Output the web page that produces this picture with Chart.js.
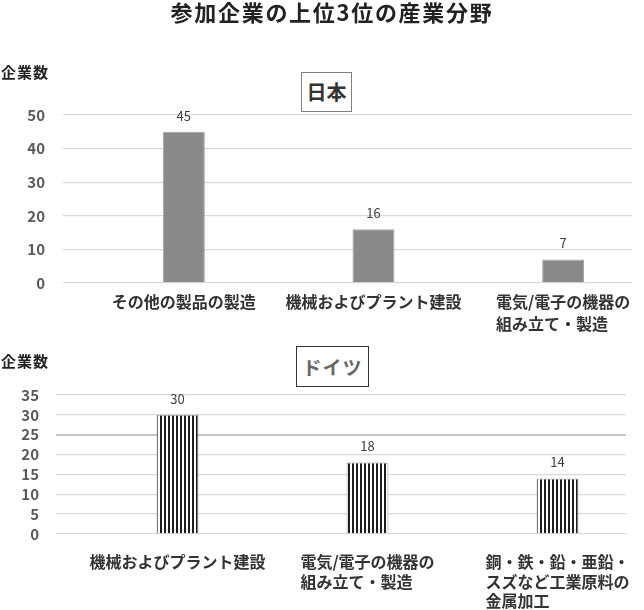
<!DOCTYPE html>
<html>
<head>
<meta charset="utf-8">
<script src="https://cdn.jsdelivr.net/npm/chart.js@4.4.1/dist/chart.umd.min.js"></script>
<style>
html,body{margin:0;padding:0;background:#fff;}
body{width:644px;height:610px;position:relative;overflow:hidden;font-family:"Noto Sans CJK JP","Noto Sans",sans-serif;}
.abs{position:absolute;}
#title{left:0;width:664px;top:-2px;text-align:center;font-size:22px;line-height:26px;font-weight:bold;letter-spacing:1.7px;color:#222;}
.yunit{left:1px;font-size:15px;line-height:18px;font-weight:bold;letter-spacing:1px;color:#222;}
.box{box-sizing:border-box;text-align:center;background:#fff;font-weight:bold;}
#boxJP{left:301px;top:72px;width:51px;height:40px;border:1px solid #808080;font-size:20px;line-height:38px;color:#333;}
#boxDE{left:296px;top:346px;width:73px;height:41px;border:1px solid #333;font-size:19px;line-height:39px;color:#666;letter-spacing:1px;}
canvas{position:absolute;left:0;}
#c1{top:0;}
#c2{top:335px;}
</style>
</head>
<body>
<canvas id="c1" width="644" height="335"></canvas>
<canvas id="c2" width="644" height="275"></canvas>
<div id="title" class="abs">参加企業の上位3位の産業分野</div>
<div class="abs yunit" style="top:63px;">企業数</div>
<div class="abs yunit" style="top:352px;">企業数</div>
<div id="boxJP" class="abs box">日本</div>
<div id="boxDE" class="abs box">ドイツ</div>
<script>
// ---- data ----
const jpCategories = [['その他の製品の製造'], ['機械およびプラント建設'], ['電気/電子の機器の', '組み立て・製造']];
const jpValues = [45, 16, 7];
const jpTicks = [0, 10, 20, 30, 40, 50];

const deCategories = [['機械およびプラント建設'], ['電気/電子の機器の', '組み立て・製造'], ['銅・鉄・鉛・亜鉛・', 'スズなど工業原料の', '金属加工']];
const deValues = [30, 18, 14];
const deTicks = [0, 5, 10, 15, 20, 25, 30, 35];

const FONT = '"Noto Sans CJK JP","Noto Sans",sans-serif';

function makeXLabelPlugin(lines, offset, lineHeight) {
  return {
    id: 'xlabels',
    afterDraw(chart) {
      const ctx = chart.ctx;
      const meta = chart.getDatasetMeta(1);
      ctx.save();
      ctx.font = 'bold 16px ' + FONT;
      ctx.fillStyle = '#333';
      ctx.textBaseline = 'middle';
      ctx.textAlign = 'left';
      lines.forEach((ls, i) => {
        const cx = meta.data[i].x;
        const w = Math.max(...ls.map(t => ctx.measureText(t).width));
        ls.forEach((t, j) => ctx.fillText(t, cx - w / 2, chart.chartArea.bottom + offset + j * lineHeight));
      });
      ctx.restore();
    }
  };
}

function makeValuePlugin(values) {
  return {
    id: 'vlabels',
    afterDatasetsDraw(chart) {
      const ctx = chart.ctx;
      const meta = chart.getDatasetMeta(1);
      ctx.save();
      ctx.font = '13px ' + FONT;
      ctx.fillStyle = '#404040';
      ctx.textAlign = 'center';
      ctx.textBaseline = 'middle';
      meta.data.forEach((el, i) => ctx.fillText(String(values[i]), el.x, el.y - 16));
      ctx.restore();
    }
  };
}

function stripePattern() {
  const c = document.createElement('canvas');
  c.width = 4; c.height = 4;
  const g = c.getContext('2d');
  g.fillStyle = '#ffffff'; g.fillRect(0, 0, 4, 4);
  g.fillStyle = '#1e1e1e'; g.fillRect(0, 0, 2, 4);
  return g.createPattern(c, 'repeat');
}

function makeChart(id, cats, vals, ticks, cfg) {
  return new Chart(document.getElementById(id), {
    type: 'bar',
    data: {
      labels: cats.map(l => l.join('')),
      datasets: [
        { data: cats.map(() => null), backgroundColor: 'rgba(0,0,0,0)' },
        { data: vals, backgroundColor: cfg.fill, borderColor: cfg.border, borderWidth: 1 }
      ]
    },
    options: {
      responsive: false,
      animation: false,
      events: [],
      datasets: { bar: { categoryPercentage: cfg.catPct, barPercentage: cfg.barPct } },
      layout: { padding: { top: cfg.padTop, right: cfg.padRight, left: 0, bottom: 0 } },
      plugins: { legend: { display: false }, tooltip: { enabled: false }, title: { display: false } },
      scales: {
        x: {
          display: true,
          grid: { display: false },
          border: { display: false },
          ticks: { display: false },
          afterFit(s) { s.height = cfg.xHeight; }
        },
        y: {
          min: ticks[0],
          max: ticks[ticks.length - 1],
          afterBuildTicks(s) { s.ticks = ticks.map(v => ({ value: v })); },
          ticks: { autoSkip: false, stepSize: ticks[1] - ticks[0], padding: cfg.tickPad, color: '#595959', font: { family: FONT, size: 15, weight: 'bold' } },
          grid: {
            drawTicks: false,
            color: (c) => (cfg.darkTick !== undefined && c.tick && c.tick.value === cfg.darkTick) ? '#c4c4c4' : '#dadada',
            lineWidth: (c) => (cfg.darkTick !== undefined && c.tick && c.tick.value === cfg.darkTick) ? 2 : 1.3
          },
          border: { display: false },
          afterFit(s) { s.width = cfg.yWidth; }
        }
      }
    },
    plugins: [makeXLabelPlugin(cats, cfg.labOffset, cfg.labLine), makeValuePlugin(vals)]
  });
}

makeChart('c1', jpCategories, jpValues, jpTicks, {
  fill: '#898989', border: '#a3a3a3',
  catPct: 0.548, barPct: 0.808,
  padTop: 115, padRight: 12, xHeight: 52, yWidth: 63, tickPad: 18,
  labOffset: 19, labLine: 22
});

makeChart('c2', deCategories, deValues, deTicks, {
  fill: stripePattern(), border: '#9a9a9a',
  catPct: 0.558, barPct: 0.79,
  padTop: 60, padRight: 18, xHeight: 76, yWidth: 56, tickPad: 17,
  labOffset: 28, labLine: 19.5, darkTick: 25
});
</script>
</body>
</html>
